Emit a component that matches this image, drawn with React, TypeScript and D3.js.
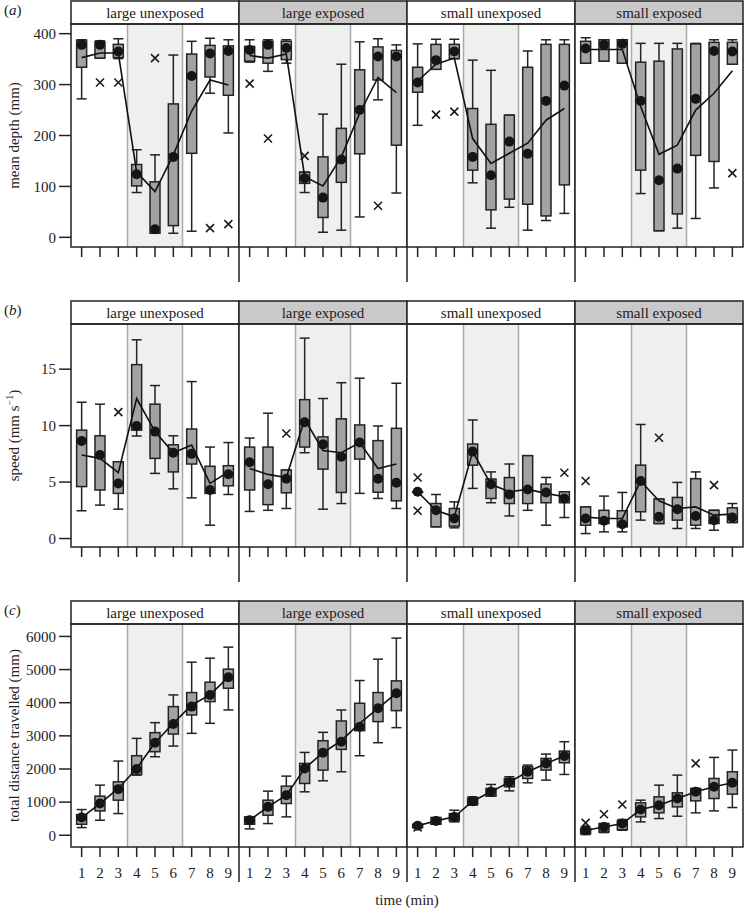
import React from 'react';
import * as d3 from 'd3';

// each row of a panel: [whiskerLow, q1, median, q3, whiskerHigh, mean]
const groups = ['large unexposed', 'large exposed', 'small unexposed', 'small exposed'];
const exposedStrip = [false, true, false, true];
const times = [1, 2, 3, 4, 5, 6, 7, 8, 9];

const depthLU = [
  [272, 334, 378, 387, 388, 353], [352, 352, 378, 384, 386, 362], [351, 353, 365, 379, 390, 362],
  [88, 101, 124, 143, 172, 128], [8, 8, 16, 109, 162, 90], [8, 23, 158, 262, 358, 162],
  [12, 165, 317, 360, 385, 248], [283, 315, 361, 377, 391, 309], [205, 279, 366, 376, 388, 299],
];
const depthLE = [
  [344, 346, 368, 375, 388, 357], [326, 342, 378, 385, 388, 352], [342, 349, 372, 385, 388, 360],
  [88, 106, 116, 128, 128, 119], [10, 39, 78, 158, 242, 101], [14, 108, 153, 214, 340, 158],
  [40, 164, 250, 329, 384, 244], [270, 309, 355, 374, 390, 314], [87, 181, 355, 367, 378, 284],
];
const depthSU = [
  [220, 285, 304, 334, 380, 307], [330, 330, 348, 379, 389, 340], [351, 351, 365, 379, 389, 352],
  [107, 132, 158, 253, 348, 194], [18, 54, 122, 222, 328, 145], [59, 75, 188, 240, 240, 165],
  [14, 65, 164, 334, 366, 185], [33, 42, 268, 379, 388, 230], [47, 103, 298, 379, 388, 253],
];
const depthSE = [
  [342, 342, 371, 385, 392, 369], [346, 346, 378, 388, 388, 369], [342, 342, 380, 388, 388, 369],
  [86, 132, 268, 344, 381, 257], [13, 13, 112, 346, 381, 163], [18, 46, 135, 370, 381, 181],
  [37, 161, 272, 380, 381, 250], [97, 149, 366, 383, 388, 283], [340, 340, 365, 383, 388, 327],
];
// [panel, time, value]
const depthOutliers = [
  [0, 2, 304], [0, 3, 304], [0, 5, 352], [0, 8, 18], [0, 9, 26],
  [1, 1, 302], [1, 2, 194], [1, 4, 160], [1, 8, 62],
  [2, 2, 241], [2, 3, 247],
  [3, 9, 126],
];

const speedLU = [
  [2.46, 4.6, 8.64, 9.6, 12.07, 7.4], [2.96, 4.3, 7.4, 9.1, 11.9, 7.1], [2.6, 4.0, 4.88, 6.8, 6.8, 5.83],
  [9.08, 9.6, 9.97, 15.4, 17.6, 12.4], [5.77, 7.1, 9.47, 11.9, 13.55, 9.47], [4.4, 5.9, 7.6, 8.3, 9.1, 7.6],
  [3.6, 6.6, 7.5, 9.7, 13.9, 8.28], [1.18, 4.0, 4.3, 6.4, 8.1, 4.88], [3.9, 4.67, 5.7, 6.45, 8.5, 5.9],
];
const speedLE = [
  [2.4, 4.3, 6.75, 8.1, 8.9, 6.2], [2.5, 3.0, 4.8, 8.1, 11.1, 5.68], [2.66, 4.05, 5.3, 6.07, 6.07, 5.4],
  [7.6, 8.1, 10.3, 12.3, 17.75, 10.56], [2.6, 6.15, 8.34, 9.0, 12.4, 7.8], [3.1, 4.08, 7.25, 10.6, 13.8, 7.6],
  [4.0, 7.04, 8.5, 10.06, 14.2, 8.5], [3.55, 4.1, 5.3, 8.67, 9.97, 6.2], [2.66, 3.34, 4.94, 9.76, 13.75, 6.6],
];
const speedSU = [
  [4.14, 4.14, 4.14, 4.14, 4.14, 4.14], [1.04, 1.04, 2.5, 3.1, 3.9, 2.5], [0.95, 1.1, 1.78, 2.66, 3.25, 1.92],
  [4.44, 6.5, 7.7, 8.37, 10.5, 7.7], [3.17, 3.55, 4.8, 5.27, 5.9, 4.8], [2.0, 3.1, 3.9, 5.4, 6.6, 4.14],
  [2.5, 3.1, 4.35, 7.34, 7.34, 4.35], [1.18, 3.17, 4.08, 4.82, 5.41, 4.0], [1.86, 3.17, 3.55, 4.14, 4.14, 3.7],
];
const speedSE = [
  [0.44, 1.18, 1.78, 2.8, 2.8, 1.9], [0.59, 1.33, 1.57, 2.5, 3.76, 1.78], [0.59, 1.04, 1.27, 2.46, 4.08, 1.78],
  [1.63, 2.37, 5.09, 6.5, 10.1, 5.09], [1.33, 1.33, 1.92, 3.5, 3.5, 3.34], [0.89, 1.63, 2.6, 3.64, 4.97, 2.66],
  [0.89, 1.18, 2.0, 5.3, 5.9, 2.8], [0.74, 1.33, 1.63, 2.5, 2.5, 2.07], [1.42, 1.42, 1.86, 2.72, 3.1, 2.16],
];
const speedOutliers = [
  [0, 3, 11.2], [1, 3, 9.3],
  [2, 1, 5.41], [2, 1, 2.46], [2, 9, 5.83],
  [3, 1, 5.1], [3, 5, 8.93], [3, 8, 4.73],
];

const distLU = [
  [232, 333, 534, 625, 776, 534], [454, 736, 958, 1180, 1513, 958], [655, 1059, 1392, 1613, 2239, 1412],
  [1815, 1835, 1997, 2400, 2924, 2017], [2370, 2521, 2793, 3096, 3398, 2793], [2692, 3055, 3358, 3882, 4235, 3378],
  [3076, 3630, 3882, 4306, 5224, 3933], [3378, 4034, 4235, 4618, 5344, 4235], [3781, 4437, 4770, 5012, 5677, 4770],
];
const distLE = [
  [192, 333, 454, 555, 555, 454], [353, 605, 857, 1059, 1331, 857], [555, 958, 1210, 1482, 1785, 1210],
  [1311, 1563, 2017, 2168, 2500, 2017], [1644, 1966, 2491, 2854, 3106, 2491], [1916, 2592, 2823, 3449, 3781, 2854],
  [2400, 3156, 3277, 3983, 4669, 3378], [2793, 3429, 3832, 4306, 5314, 3832], [3247, 3761, 4286, 4659, 5950, 4286],
];
const distSU = [
  [230, 230, 285, 330, 330, 285], [333, 333, 434, 534, 534, 434], [403, 434, 555, 655, 756, 555],
  [908, 928, 1029, 1129, 1160, 1029], [1180, 1180, 1311, 1412, 1533, 1311], [1341, 1462, 1603, 1714, 1765, 1603],
  [1583, 1714, 1916, 2067, 2118, 1916], [1664, 1966, 2168, 2319, 2450, 2168], [1835, 2188, 2390, 2541, 2823, 2390],
];
const distSE = [
  [20, 50, 151, 202, 252, 151], [81, 101, 252, 353, 353, 252], [151, 171, 353, 434, 474, 353],
  [403, 555, 776, 978, 1059, 776], [504, 676, 908, 1160, 1513, 908], [575, 857, 1109, 1281, 1815, 1109],
  [676, 1039, 1311, 1412, 1412, 1311], [736, 1109, 1462, 1714, 2350, 1462], [837, 1240, 1583, 1916, 2571, 1583],
];
const distOutliers = [
  [2, 1, 240],
  [3, 1, 373], [3, 2, 635], [3, 3, 928], [3, 7, 2168],
];

const depthTicks = [0, 100, 200, 300, 400];
const speedTicks = [0, 5, 10, 15];
const distTicks = [0, 1000, 2000, 3000, 4000, 5000, 6000];

const FONT = '"Liberation Serif", "DejaVu Serif", serif';
const INK = '#222';
const panelX = [71, 239, 407, 575, 743];

const rows = [
  { letter: 'a', title: 'mean depth (mm)', top: 1, domain: [-19, 419], ticks: depthTicks,
    panels: [depthLU, depthLE, depthSU, depthSE], outliers: depthOutliers, labels: false },
  { letter: 'b', title: 'speed (mm s', sup: '−1', top: 301, domain: [-0.75, 19], ticks: speedTicks,
    panels: [speedLU, speedLE, speedSU, speedSE], outliers: speedOutliers, labels: false },
  { letter: 'c', title: 'total distance travelled (mm)', top: 601, domain: [-354, 6375], ticks: distTicks,
    panels: [distLU, distLE, distSU, distSE], outliers: distOutliers, labels: true },
];

const STRIP_H = 23;
const PLOT_H = 223;

function Row({ row }: any) {
  const plotTop = row.top + STRIP_H;
  const plotBottom = plotTop + PLOT_H;
  const y = d3.scaleLinear().domain(row.domain).range([plotBottom, plotTop]);
  const midY = (plotTop + plotBottom) / 2;
  return (
    <g>
      <text x={4} y={row.top + 14} fontFamily={FONT} fontSize={15} fill={INK}>
        (<tspan fontStyle="italic">{row.letter}</tspan>)
      </text>
      <text transform={`translate(19,${midY}) rotate(-90)`} textAnchor="middle" fontFamily={FONT}
        fontSize={15} fill={INK}>
        {row.title}
        {row.sup && <tspan fontSize={10} dy={-6}>{row.sup}</tspan>}
        {row.sup && <tspan dy={6}>)</tspan>}
      </text>
      {row.ticks.map((t: number) => (
        <g key={t}>
          <line x1={59} x2={panelX[0]} y1={y(t)} y2={y(t)} stroke={INK} strokeWidth={1.5} />
          <text x={56} y={y(t)} dy="0.35em" textAnchor="end" fontFamily={FONT} fontSize={15} fill={INK}>{t}</text>
        </g>
      ))}
      {groups.map((gname, p) => {
        const x0 = panelX[p];
        const x1 = panelX[p + 1];
        const x = d3.scaleLinear().domain([0.42, 9.58]).range([x0, x1]);
        const data = row.panels[p];
        const line = d3.line<number[]>().x((_d, i) => x(times[i])).y(d => y(d[5]));
        const bw = 10;
        return (
          <g key={gname}>
            <rect x={x0} y={plotTop} width={x1 - x0} height={PLOT_H} fill="#fff" />
            <rect x={x(3.5)} y={plotTop} width={x(6.5) - x(3.5)} height={PLOT_H} fill="#eef0ee" />
            <line x1={x(3.5)} x2={x(3.5)} y1={plotTop} y2={plotBottom} stroke="#aaa" strokeWidth={1.5} />
            <line x1={x(6.5)} x2={x(6.5)} y1={plotTop} y2={plotBottom} stroke="#aaa" strokeWidth={1.5} />
            {data.map((d: number[], i: number) => {
              const cx = x(times[i]);
              return (
                <g key={i} stroke={INK} strokeWidth={1.5}>
                  <line x1={cx} x2={cx} y1={y(d[0])} y2={y(d[4])} />
                  <line x1={cx - bw / 2} x2={cx + bw / 2} y1={y(d[0])} y2={y(d[0])} />
                  <line x1={cx - bw / 2} x2={cx + bw / 2} y1={y(d[4])} y2={y(d[4])} />
                  <rect x={cx - bw / 2} width={bw} y={y(d[3])} height={Math.max(y(d[1]) - y(d[3]), 0.5)} fill="#a2a2a2" />
                </g>
              );
            })}
            <path d={line(data) || ''} fill="none" stroke="#111" strokeWidth={1.6} />
            {data.map((d: number[], i: number) => (
              <circle key={i} cx={x(times[i])} cy={y(d[2])} r={5} fill="#151515" />
            ))}
            {row.outliers.filter((o: number[]) => o[0] === p).map((o: number[], k: number) => {
              const cx = x(o[1]);
              const cy = y(o[2]);
              const s = 4;
              return (
                <path key={k} d={`M${cx - s},${cy - s}L${cx + s},${cy + s}M${cx - s},${cy + s}L${cx + s},${cy - s}`}
                  stroke="#1a1a1a" strokeWidth={1.6} fill="none" />
              );
            })}
            <rect x={x0} y={row.top} width={x1 - x0} height={STRIP_H} fill={exposedStrip[p] ? '#c9c9c9' : '#fff'}
              stroke={INK} strokeWidth={1.5} />
            <text x={(x0 + x1) / 2} y={row.top + 16.5} textAnchor="middle" fontFamily={FONT} fontSize={15} fill={INK}>
              {gname}
            </text>
            <rect x={x0} y={plotTop} width={x1 - x0} height={PLOT_H} fill="none" stroke={INK} strokeWidth={1.5} />
            {times.map(t => (
              <g key={t}>
                <line x1={x(t)} x2={x(t)} y1={plotBottom} y2={plotBottom + 10} stroke={INK} strokeWidth={1.5} />
                {row.labels && (
                  <text x={x(t)} y={plotBottom + 31} textAnchor="middle" fontFamily={FONT} fontSize={15} fill={INK}>{t}</text>
                )}
              </g>
            ))}
            {p > 0 && <line x1={x0} x2={x0} y1={plotBottom} y2={plotBottom + 35} stroke={INK} strokeWidth={1.5} />}
          </g>
        );
      })}
    </g>
  );
}

export default function App() {
  return (
    <svg width={745} height={909} style={{ position: 'absolute', left: 0, top: 0, background: '#fff' }}>
      {rows.map(r => <Row key={r.letter} row={r} />)}
      <text x={407} y={905} textAnchor="middle" fontFamily={FONT} fontSize={15} fill={INK}>time (min)</text>
    </svg>
  );
}
